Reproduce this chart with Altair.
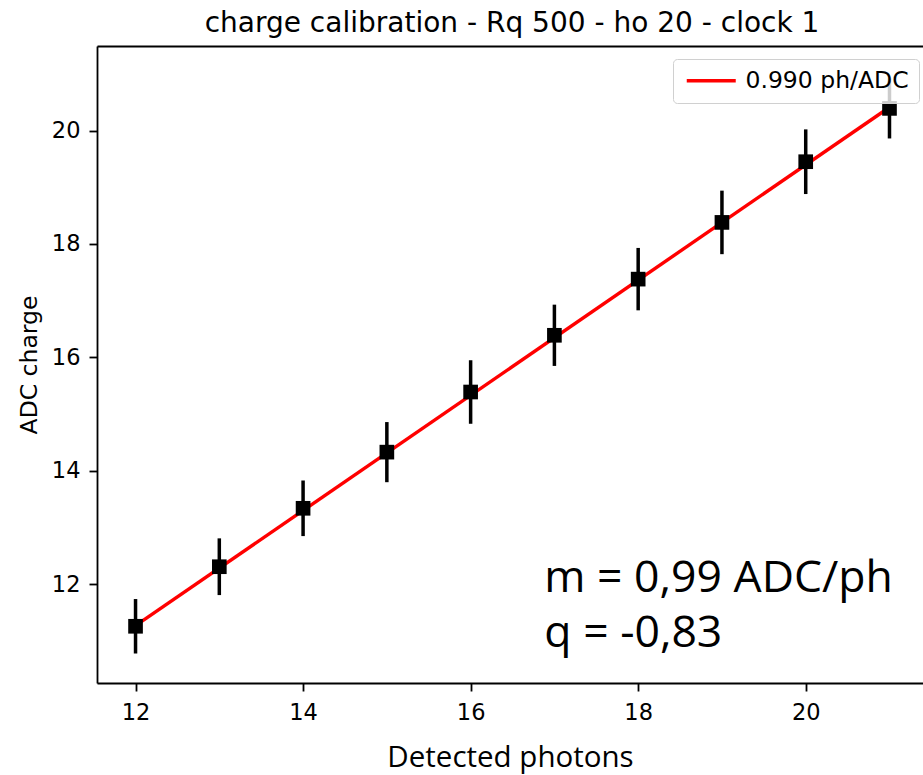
import altair as alt
import pandas as pd

# ---- data ----
photons = [12, 13, 14, 15, 16, 17, 18, 19, 20, 21]
adc_charge = [11.26, 12.31, 13.34, 14.33, 15.39, 16.39, 17.38, 18.38, 19.45, 20.39]
adc_err = [0.48, 0.50, 0.49, 0.53, 0.56, 0.54, 0.55, 0.56, 0.57, 0.53]

fit_x = [12, 21]
fit_y = [11.27, 20.41]
fit_label = "0.990 ph/ADC"

note_text = ["m = 0,99 ADC/ph", "q = -0,83"]
note_x = [16.88, 16.88]
note_y = [11.86, 10.89]

x_ticks = [12, 14, 16, 18, 20]
y_ticks = [12, 14, 16, 18, 20]

# ---- tables ----
pts = pd.DataFrame({
    "x": photons,
    "y": adc_charge,
    "lo": [v - e for v, e in zip(adc_charge, adc_err)],
    "hi": [v + e for v, e in zip(adc_charge, adc_err)],
})
fit = pd.DataFrame({"x": fit_x, "y": fit_y, "label": [fit_label] * len(fit_x)})
notes = pd.DataFrame({"x": note_x, "y": note_y, "t": note_text})

xs = alt.Scale(domain=[11.54, 21.40], nice=False, zero=False)
ys = alt.Scale(domain=[10.26, 21.49], nice=False, zero=False)

common_axis = dict(
    domainColor="black", domainWidth=1.8, tickColor="black", tickWidth=1.8,
    tickSize=8, labelFont="DejaVu Sans", labelFontSize=22.5, labelColor="black",
    grid=False,
)

y_axis = alt.Axis(values=y_ticks, title="ADC charge", labelPadding=9,
                  titleFont="DejaVu Sans", titleFontSize=23.5, titleFontWeight="normal",
                  titleColor="black", titlePadding=10, **common_axis)
x_axis = alt.Axis(values=x_ticks, title="Detected photons", labelPadding=10,
                  titleFont="Open Sans", titleFontSize=29.5, titleFontWeight="normal",
                  titleColor="black", titlePadding=20, orient="bottom", **common_axis)
x_top = alt.Axis(orient="top", labels=False, ticks=False, title=None, grid=False,
                 domainColor="black", domainWidth=1.8)

line = alt.Chart(fit).mark_line(strokeWidth=3.4, clip=True).encode(
    x=alt.X("x:Q", scale=xs, axis=x_top),
    y=alt.Y("y:Q", scale=ys, axis=y_axis),
    color=alt.Color(
        "label:N",
        scale=alt.Scale(domain=[fit_label], range=["#ff0000"]),
        legend=alt.Legend(
            title=None, orient="none", legendX=576, legendY=13,
            symbolType="M-1.6,0L8.2,0", symbolSize=100, symbolStrokeWidth=3.4,
            labelFont="DejaVu Sans", labelFontSize=23.5, labelColor="black",
            labelOffset=39, labelLimit=0,
            fillColor="rgba(255,255,255,0.8)", strokeColor="#d0d0d0",
            cornerRadius=4, padding=10,
        ),
    ),
)

bars = alt.Chart(pts).mark_rule(color="black", strokeWidth=3.5, clip=True).encode(
    x=alt.X("x:Q", scale=xs, axis=None),
    y=alt.Y("lo:Q", scale=ys, axis=y_axis),
    y2="hi:Q",
)

points = alt.Chart(pts).mark_point(shape="square", filled=True, color="black",
                                   size=215, opacity=1, clip=True).encode(
    x=alt.X("x:Q", scale=xs, axis=x_axis),
    y=alt.Y("y:Q", scale=ys, axis=y_axis),
)

text = alt.Chart(notes).mark_text(align="left", baseline="alphabetic",
                                  font="Open Sans", fontSize=44.5, color="black").encode(
    x=alt.X("x:Q", scale=xs, axis=None),
    y=alt.Y("y:Q", scale=ys, axis=y_axis),
    text="t:N",
)

chart = (
    alt.layer(line, bars, points, text)
    .resolve_axis(x="independent")
    .properties(
        width=826, height=637,
        title=alt.Title("charge calibration - Rq 500 - ho 20 - clock 1",
                        font="DejaVu Sans", fontSize=28, fontWeight="normal",
                        color="black", anchor="middle", offset=8, dx=2),
        autosize=alt.AutoSizeParams(type="none"),
        padding={"left": 97, "top": 46, "right": 0, "bottom": 92},
    )
    .configure_view(stroke=None)
    .configure(background="white")
)

chart.save("out.html", embed_options={"renderer": "svg", "actions": False})
